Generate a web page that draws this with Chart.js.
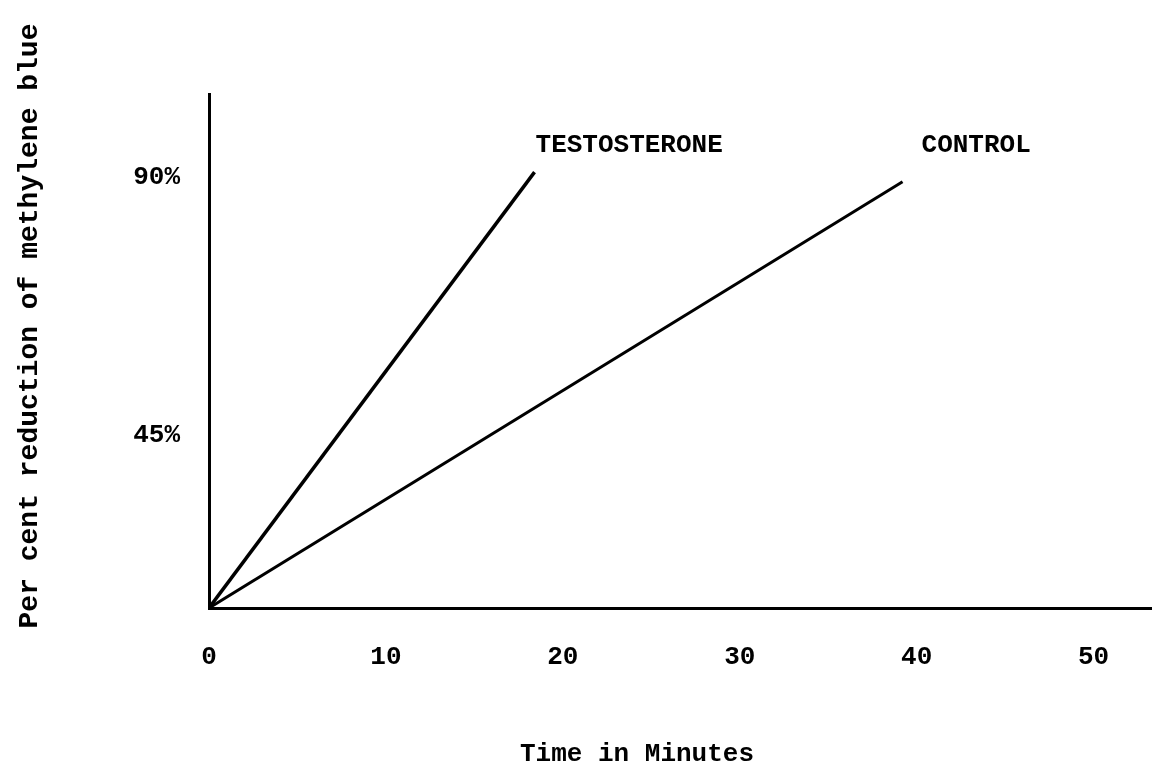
<!DOCTYPE html>
<html>
<head>
<meta charset="utf-8">
<title>Methylene blue reduction</title>
<script src="https://cdn.jsdelivr.net/npm/chart.js@4.4.1/dist/chart.umd.min.js"></script>
<style>
body { margin:0; background:#fff; }
#box { width:1152px; height:768px; position:relative; }
</style>
</head>
<body>
<div id="box"><canvas id="grafico"></canvas></div>
<script>
// valores
var testosteronaTempo = [0, 18.4];
var testosteronaPct = [0, 91];
var controleTempo = [0, 39.2];
var controlePct = [0, 89];
var xTicks = [0, 10, 20, 30, 40, 50];
var yTicks = [45, 90];
var yTickLabels = ["45%", "90%"];
var tituloX = "Time in Minutes";
var tituloY = "Per cent reduction of methylene blue";

var fonte = "'Liberation Mono', 'DejaVu Sans Mono', monospace";

function pontos(xs, ys){
	var lista = [];
	for(var i=0; i<xs.length; i++){
		lista.push({x: xs[i], y: ys[i]});
	}
	return lista;
}

// nome da serie escrito acima do fim de cada linha + titulos dos eixos
var rotulos = {
	id: "rotulos",
	afterDatasetsDraw: function(chart){
		var ctx = chart.ctx;
		var area = chart.chartArea;
		var desloc = [[1, -27], [19, -36]];
		ctx.save();
		ctx.font = "bold 26px " + fonte;
		ctx.fillStyle = "#000";
		ctx.textAlign = "left";
		ctx.textBaseline = "middle";
		chart.data.datasets.forEach(function(ds, i){
			var meta = chart.getDatasetMeta(i);
			var ultimo = meta.data[meta.data.length-1];
			ctx.fillText(ds.label, ultimo.x + desloc[i][0], ultimo.y + desloc[i][1]);
		});

		ctx.textAlign = "center";
		ctx.fillText(tituloX, area.left + 428, chart.height - 14);

		ctx.font = "bold 28px " + fonte;
		ctx.translate(30, area.top + 232);
		ctx.rotate(-Math.PI/2);
		ctx.fillText(tituloY, 0, 0);
		ctx.restore();
	}
};

Chart.defaults.color = "#000";
Chart.defaults.font.family = fonte;

var ctx = document.getElementById("grafico");
var chartGraph = new Chart(ctx, {
	type : 'line',
	data : {
		datasets : [ {
			label : "TESTOSTERONE",
			data : pontos(testosteronaTempo, testosteronaPct),
			borderWidth : 3.5,
			borderColor : '#000',
			backgroundColor : 'transparent',
			pointRadius : 0
		}, {
			label : "CONTROL",
			data : pontos(controleTempo, controlePct),
			borderWidth : 3,
			borderColor : '#000',
			backgroundColor : 'transparent',
			pointRadius : 0
		} ]
	},
	options : {
		responsive : true,
		maintainAspectRatio : false,
		animation : false,
		layout : { padding : { top : 94, right : 0, left : 0, bottom : 0 } },
		plugins : {
			legend : { display : false },
			tooltip : { enabled : false }
		},
		scales : {
			x : {
				type : 'linear',
				min : 0,
				max : 53.3,
				grid : { display : false, drawTicks : false },
				border : { display : true, color : '#000', width : 3 },
				afterBuildTicks : function(s){
					s.ticks = xTicks.map(function(v){ return {value: v}; });
				},
				afterFit : function(s){ s.height = 160; },
				ticks : {
					padding : 34,
					maxRotation : 0,
					font : { size : 26, weight : 'bold' }
				}
			},
			y : {
				type : 'linear',
				position : 'left',
				min : 0,
				max : 107.3,
				grid : { display : false, drawTicks : false },
				border : { display : true, color : '#000', width : 3 },
				ticks : { display : false },
				afterFit : function(s){ s.width = 0; }
			},
			yLab : {
				type : 'linear',
				position : 'left',
				min : 14.83,
				max : 104.48,
				grid : { display : false, drawTicks : false },
				border : { display : false },
				afterBuildTicks : function(s){
					s.ticks = yTicks.map(function(v){ return {value: v}; });
				},
				afterFit : function(s){ s.width = 209; },
				ticks : {
					padding : 29,
					font : { size : 26, weight : 'bold' },
					callback : function(v){
						return yTickLabels[yTicks.indexOf(v)];
					}
				}
			}
		}
	},
	plugins : [rotulos]
});
</script>
</body>
</html>
